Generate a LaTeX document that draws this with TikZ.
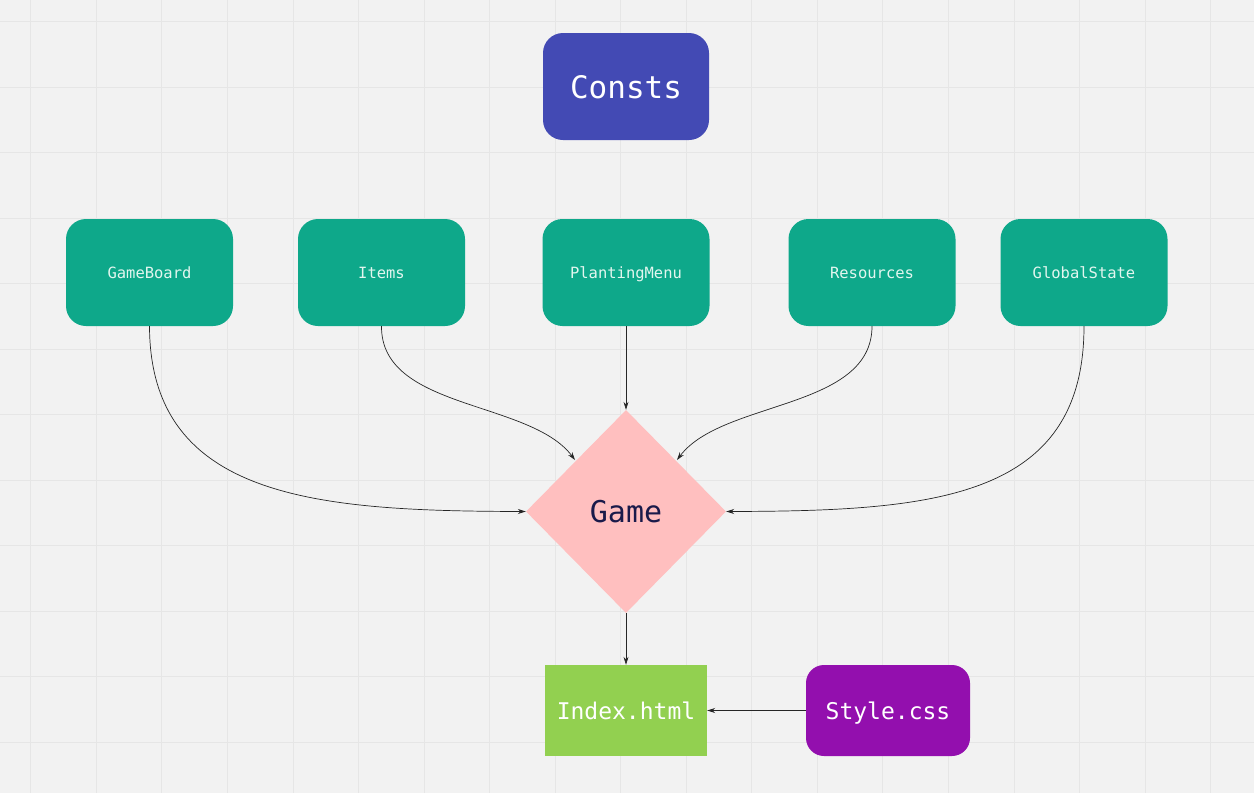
\documentclass[tikz,border=0pt]{standalone}
\usepackage{fontspec}
\setmonofont{DejaVu Sans Mono}
\usetikzlibrary{shapes.geometric,arrows.meta}
\definecolor{bg}{HTML}{F2F2F2}
\definecolor{gridminor}{HTML}{E6E6E6}
\definecolor{constblue}{HTML}{434AB4}
\definecolor{teal}{HTML}{0EA88A}
\definecolor{tealtext}{HTML}{E2F6EF}
\definecolor{gamepink}{HTML}{FFBFBF}
\definecolor{gametext}{HTML}{1A1A4A}
\definecolor{idxgreen}{HTML}{92D050}
\definecolor{stylepurple}{HTML}{930FAE}
\begin{document}
\begin{tikzpicture}[x=1pt,y=-1pt,
  txt/.style={text depth=0pt},
  mod/.style={txt,fill=teal,rounded corners=20pt,minimum width=167pt,minimum height=107pt,inner sep=0pt,
    text=tealtext,font=\ttfamily\fontsize{15.5}{18}\selectfont},
  conn/.style={draw=black!85,line width=0.7pt,-{Stealth[length=8pt,width=5pt]}}]
\fill[bg] (0,0) rectangle (1254,793);
\useasboundingbox (0,0) rectangle (1254,793);
% grid
\foreach \i in {0,...,19}{
  \pgfmathsetmacro\gx{30.7+65.55*\i}
  \draw[gridminor,line width=0.8pt] (\gx,0) -- (\gx,793);
}
\foreach \j in {0,...,12}{
  \pgfmathsetmacro\gy{21.5+65.5*\j}
  \draw[gridminor,line width=0.8pt] (0,\gy) -- (1254,\gy);
}
% nodes
\node[txt,fill=constblue,rounded corners=20pt,minimum width=166pt,minimum height=107pt,inner sep=0pt,
  text=white,font=\ttfamily\fontsize{31}{36}\selectfont] (consts) at (626,86.5) {Consts};
\node[mod] (gb) at (149.5,272.5) {GameBoard};
\node[mod] (items) at (381.5,272.5) {Items};
\node[mod] (pm) at (626,272.5) {PlantingMenu};
\node[mod] (res) at (872,272.5) {Resources};
\node[mod] (gs) at (1084,272.5) {GlobalState};
\node[txt,diamond,fill=gamepink,minimum width=200pt,minimum height=203pt,inner sep=0pt,
  text=gametext,font=\ttfamily\fontsize{30}{34}\selectfont] (game) at (626,511.5) {Game};
\node[txt,fill=idxgreen,minimum width=162pt,minimum height=91pt,inner sep=0pt,
  text=white,font=\ttfamily\fontsize{23}{27}\selectfont] (idx) at (626,710.5) {Index.html};
\node[txt,fill=stylepurple,rounded corners=18pt,minimum width=164pt,minimum height=91pt,inner sep=0pt,
  text=white,font=\ttfamily\fontsize{23}{27}\selectfont] (style) at (888,710.5) {Style.css};
% connectors
\coordinate (gl) at (game.west);
\coordinate (gr) at (game.east);
\coordinate (gul) at (575,460);
\coordinate (gur) at (677,460);
\draw[conn] (gb.south) .. controls (150,500) and (320,511) .. (gl);
\draw[conn] (items.south) .. controls (381,410) and (530,400) .. (gul);
\draw[conn] (pm.south) -- (game.north);
\draw[conn] (res.south) .. controls (872,410) and (722,400) .. (gur);
\draw[conn] (gs.south) .. controls (1084,500) and (932,511) .. (gr);
\draw[conn] (game.south) -- (idx.north);
\draw[conn] (style.west) -- (idx.east);
\end{tikzpicture}
\end{document}
